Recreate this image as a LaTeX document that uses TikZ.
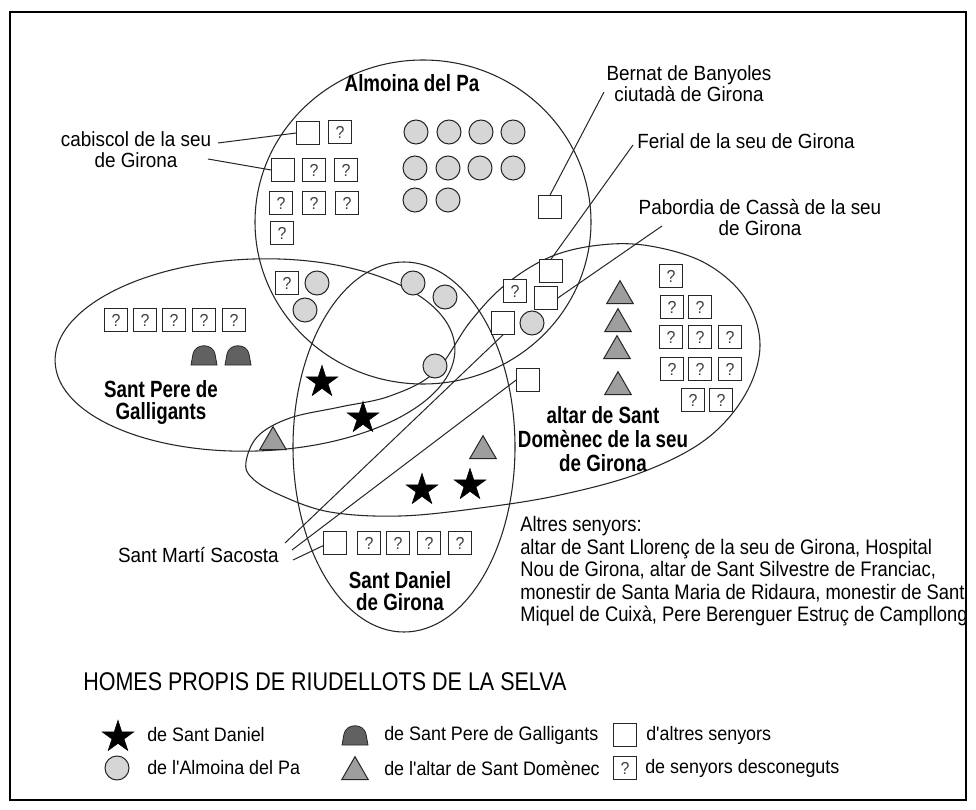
\documentclass[tikz,border=0pt]{standalone}
\usepackage{fontspec}
\setmainfont{Liberation Sans}[FakeStretch=0.92, Ligatures=TeXOff]
\newfontfamily\bfam{Liberation Sans}[FakeStretch=0.80, Ligatures=TeXOff]
\newfontfamily\tfam{Liberation Sans}[FakeStretch=0.84, Ligatures=TeXOff]
\newfontfamily\blfam{Liberation Sans}[FakeStretch=0.875, Ligatures=TeXOff]
\usetikzlibrary{shapes.geometric}
\lineskiplimit=-100pt
\tikzset{
  setline/.style={line width=0.8pt, draw=black!85},
  lead/.style={line width=0.75pt, draw=black!85},
  sq/.style={draw=black!85, fill=white, minimum size=17pt, inner sep=0pt, line width=0.75pt},
  qm/.style={sq, font=\fontsize{13pt}{13pt}\selectfont, text=black!75},
  circ/.style={circle, draw=black!85, fill=black!16, minimum size=18pt, inner sep=0pt, line width=0.75pt},
  tri/.style={regular polygon, regular polygon sides=3, draw=black!85, fill=black!38, minimum size=23pt, inner sep=0pt, line width=0.75pt},
  starn/.style={star, star points=5, star point ratio=2.618, fill=black, draw=black, minimum size=25pt, inner sep=0pt},
  labtext/.style={inner sep=0pt, font=\fontsize{15.4pt}{15.75pt}\selectfont},
  boldtext/.style={inner sep=0pt, font=\bfam\bfseries\fontsize{17.6pt}{16.5pt}\selectfont},
  alttext/.style={inner sep=0pt, font=\bfam\bfseries\fontsize{17.6pt}{18pt}\selectfont},
  blocktext/.style={inner sep=0pt, font=\blfam\fontsize{15.75pt}{16.9pt}\selectfont},
  legtext/.style={inner sep=0pt, anchor=west, font=\fontsize{14.6pt}{15pt}\selectfont},
  titletext/.style={inner sep=0pt, anchor=west, font=\tfam\fontsize{19.2pt}{20pt}\selectfont},
  dome/.pic={\draw[fill=black!62, draw=black!85, line width=0.6pt] (-13,10) -- (-11,-1) .. controls (-9,-12) and (9,-12) .. (11,-1) -- (13,10) -- cycle;}
}
\begin{document}
\begin{tikzpicture}[x=0.75pt,y=-0.75pt]
\useasboundingbox (0,0) rectangle (976,810);
\fill[white] (0,0) rectangle (976,810);
\draw[line width=1.5pt] (10,12) rectangle (966,800);

% sets
\draw[setline] (423,222) ellipse [x radius=168, y radius=162];
\draw[setline, rotate around={2:(255,355)}] (255,355) ellipse [x radius=200, y radius=96];
\draw[setline] (404,447) ellipse [x radius=111, y radius=185];
\draw[setline] plot[smooth cycle, tension=0.6] coordinates {
 (246,462) (258,436) (290,418) (340,407) (390,396) (435,372) (470,322) (505,285)
 (550,257) (600,245) (650,246) (705,263) (745,298) (760,345) (745,395) (705,440)
 (640,473) (560,495) (480,508) (400,516) (330,512) (280,495) (252,478)};

% Almoina contents
\node[sq] (cabsqA) at (308,133) {};
\node[qm] (qa1) at (340,132) {?};
\node[sq] (cabsqB) at (283,170) {};
\node[qm] (qa2) at (314,170) {?};
\node[qm] (qa3) at (346,170) {?};
\node[qm] (qa4) at (281,203) {?};
\node[qm] (qa5) at (314,203) {?};
\node[qm] (qa6) at (347,203) {?};
\node[qm] (qa7) at (282,233) {?};
\foreach \px/\py/\n in {416/132/1,449/132/2,481/132/3,513/132/4,415/168/5,448/168/6,480/168/7,513/168/8,415/200/9,448/200/10}
  \node[circ] (ca\n) at (\px,\py) {};
\node[sq] (sqBer) at (550,207) {};

% Almoina / Sant Pere overlap
\node[qm] (qb1) at (287,283) {?};
\node[circ] (cb1) at (317,283) {};
\node[circ] (cb2) at (305,310) {};
\node[circ] (cb3) at (413,283) {};
\node[circ] (cb4) at (445,297) {};
\node[circ] (cb5) at (435,366) {};

% altar upper-left area
\node[sq] (sqF) at (551,271) {};
\node[sq] (sqP) at (546,298) {};
\node[qm] (qc1) at (515,291) {?};
\node[circ] (cc1) at (532,323) {};
\node[sq] (sqS1) at (503,323) {};
\node[sq] (sqS2) at (528,380) {};

% Sant Pere
\foreach \px/\n in {116/1,145/2,174/3,204/4,234/5}
  \node[qm] (qp\n) at (\px,320) {?};
\pic at (204,355) {dome};
\pic at (238,355) {dome};

% stars
\node[starn] (st1) at (322,382) {};
\node[starn] (st2) at (363,418) {};
\node[starn] (st3) at (422,490) {};
\node[starn] (st4) at (470,485) {};

% triangles
\node[tri] (tr1) at (273,442) {};
\node[tri] (tr2) at (483,451) {};
\node[tri] (tr3) at (620,296) {};
\node[tri] (tr4) at (618,324) {};
\node[tri] (tr5) at (617,351) {};
\node[tri] (tr6) at (618,387) {};

% altar unknowns
\node[qm] (qd1) at (671,276) {?};
\node[qm] (qd2) at (672,307) {?};
\node[qm] (qd3) at (700,307) {?};
\node[qm] (qd4) at (671,337) {?};
\node[qm] (qd5) at (700,337) {?};
\node[qm] (qd6) at (730,337) {?};
\node[qm] (qd7) at (672,369) {?};
\node[qm] (qd8) at (700,369) {?};
\node[qm] (qd9) at (730,369) {?};
\node[qm] (qd10) at (693,400) {?};
\node[qm] (qd11) at (721,400) {?};

% Sant Daniel
\node[sq] (sqS3) at (335,543) {};
\foreach \px/\n in {369/1,398/2,429/3,460/4}
  \node[qm] (qs\n) at (\px,543) {?};

% labels
\node[labtext, align=center] (cabl) at (136,150) {cabiscol de la seu\\de Girona};
\node[labtext, align=center] (bernl) at (689,84) {Bernat de Banyoles\\ciutadà de Girona};
\node[labtext] (ferl) at (746,141) {Ferial de la seu de Girona};
\node[labtext, align=center] (pabl) at (760,218) {Pabordia de Cassà de la seu\\de Girona};
\node[labtext, anchor=east] (martl) at (279,555) {Sant Martí Sacosta};
\node[boldtext] (almt) at (412,83) {Almoina del Pa};
\node[boldtext, align=center] (spt) at (161,402) {Sant Pere de\\Galligants};
\node[boldtext, align=center] (sdt) at (400,591) {Sant Daniel\\de Girona};
\node[alttext, align=center] (altt) at (603,439) {altar de Sant\\Domènec de la seu\\de Girona};
\node[blocktext, anchor=north west, align=left] (altres) at (520,516) {Altres senyors:\\altar de Sant Llorenç de la seu de Girona, Hospital\\Nou de Girona, altar de Sant Silvestre de Franciac,\\monestir de Santa Maria de Ridaura, monestir de Sant\\Miquel de Cuixà, Pere Berenguer Estruç de Campllong};

% leader lines
\coordinate (cabA) at (218,143);
\coordinate (cabB) at (208,159);
\coordinate (bernE) at (604,92);
\coordinate (ferE) at (633,145);
\coordinate (pabE) at (662,226);
\coordinate (martA) at (285,543);
\coordinate (martB) at (292,550);
\coordinate (martC) at (293,560);
\draw[lead] (cabA) -- (cabsqA.west);
\draw[lead] (cabB) -- (cabsqB.west);
\draw[lead] (bernE) -- (sqBer.north);
\draw[lead] (ferE) -- (sqF.north);
\draw[lead] (pabE) -- (sqP.east);
\draw[lead] (martA) -- (sqS1.south);
\draw[lead] (martB) -- (sqS2.west);
\draw[lead] (martC) -- ([yshift=-2pt]sqS3.west);

% title and legend
\node[titletext] (title) at (83,682) {HOMES PROPIS DE RIUDELLOTS DE LA SELVA};
\node[starn] (lgstar) at (118,737) {};
\node[legtext] (lgt1) at (147,735) {de Sant Daniel};
\node[circ] (lgcirc) at (117,768) {};
\node[legtext] (lgt2) at (147,768) {de l'Almoina del Pa};
\pic at (355,735) {dome};
\node[legtext] (lgt3) at (384,735) {de Sant Pere de Galligants};
\node[tri] (lgtri) at (355,772) {};
\node[legtext] (lgt4) at (384,768) {de l'altar de Sant Domènec};
\node[sq] (lgsq) at (625,735) {};
\node[legtext] (lgt5) at (646,735) {d'altres senyors};
\node[qm] (lgq) at (625,768) {?};
\node[legtext] (lgt6) at (645,768) {de senyors desconeguts};
\end{tikzpicture}
\end{document}
